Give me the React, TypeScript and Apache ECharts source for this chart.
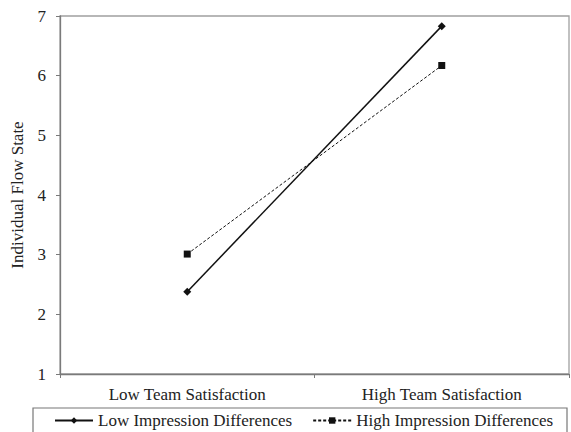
import React, { useEffect, useRef } from "react";
import * as echarts from "echarts";

const categories = ["Low Team Satisfaction", "High Team Satisfaction"];
const lowImpression = [2.38, 6.83];
const highImpression = [3.01, 6.17];
const seriesNames = ["Low Impression Differences", "High Impression Differences"];

export default function App() {
  const ref = useRef<HTMLDivElement>(null);
  useEffect(() => {
    const chart = echarts.init(ref.current!, null, { renderer: "svg" });
    const font = "'Liberation Serif', 'Times New Roman', serif";
    chart.setOption({
      animation: false,
      backgroundColor: "#fff",
      textStyle: { fontFamily: font },
      grid: {
        left: 60,
        right: 2,
        top: 16,
        bottom: 58,
        show: true,
        borderColor: "#a0a0a0",
        borderWidth: 1.3,
      },
      xAxis: {
        type: "category",
        data: categories,
        boundaryGap: true,
        axisLine: { lineStyle: { color: "#7a7a7a", width: 1.3 } },
        axisTick: { show: true, length: 4, lineStyle: { color: "#7a7a7a" } },
        axisLabel: { color: "#222", fontSize: 17, fontFamily: font, margin: 12 },
        splitLine: { show: false },
      },
      yAxis: {
        type: "value",
        min: 1,
        max: 7,
        interval: 1,
        name: "Individual Flow State",
        nameLocation: "middle",
        nameGap: 34,
        nameTextStyle: { color: "#222", fontSize: 17, fontFamily: font },
        axisLine: { show: true, lineStyle: { color: "#7a7a7a", width: 1.3 } },
        axisTick: { show: true, length: 4, lineStyle: { color: "#7a7a7a" } },
        axisLabel: { color: "#222", fontSize: 17, fontFamily: font, margin: 14 },
        splitLine: { show: false },
      },
      legend: {
        left: 54,
        top: 412,
        padding: 0,
        itemWidth: 38,
        itemHeight: 8,
        itemGap: 20,
        textStyle: { color: "#222", fontSize: 17, fontFamily: font },
        data: seriesNames,
      },
      graphic: [
        {
          type: "rect",
          shape: { x: 33, y: 408, width: 534, height: 40 },
          style: { fill: "none", stroke: "#777", lineWidth: 1.2 },
          z: -1,
        },
      ],
      series: [
        {
          name: seriesNames[0],
          type: "line",
          data: lowImpression,
          symbol: "diamond",
          symbolSize: 8,
          itemStyle: { color: "#111" },
          lineStyle: { color: "#111", width: 1.5, type: "solid" },
        },
        {
          name: seriesNames[1],
          type: "line",
          data: highImpression,
          symbol: "rect",
          symbolSize: 7,
          itemStyle: { color: "#111" },
          lineStyle: { color: "#111", width: 1, type: [3, 2] },
        },
      ],
    });
    return () => chart.dispose();
  }, []);
  return <div ref={ref} style={{ width: 571, height: 432, position: "absolute", left: 0, top: 0 }} />;
}
